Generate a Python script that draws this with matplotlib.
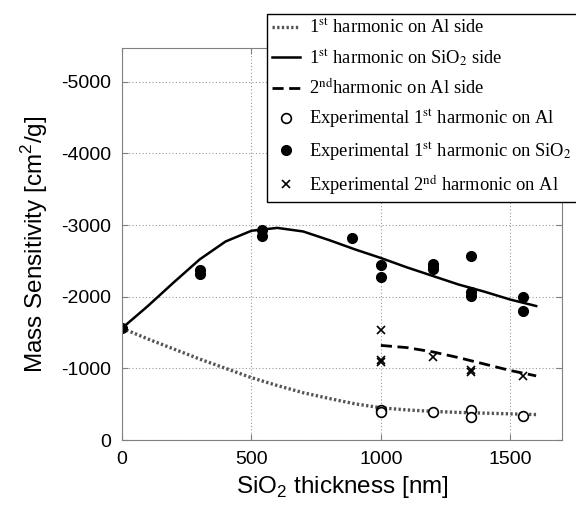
import numpy as np
import matplotlib
matplotlib.use("Agg")
import matplotlib.pyplot as plt
from matplotlib.font_manager import FontProperties

plt.rcParams['font.family'] = ['Liberation Sans', 'DejaVu Sans']
plt.rcParams['mathtext.fontset'] = 'custom'
plt.rcParams['mathtext.rm'] = 'Liberation Sans'
plt.rcParams['axes.unicode_minus'] = False

# model curves
x_model = [0, 100, 200, 300, 400, 500, 600, 700, 800, 900, 1000,
           1100, 1200, 1300, 1400, 1500, 1600]
al_1st = [-1560, -1410, -1270, -1130, -1000, -870, -760, -660, -580, -505, -450,
          -420, -400, -385, -375, -365, -355]
sio2_1st = [-1560, -1870, -2200, -2520, -2770, -2920, -2960, -2910, -2790, -2660, -2540,
            -2410, -2290, -2170, -2070, -1960, -1870]
x_2nd = [1000, 1100, 1200, 1300, 1400, 1500, 1600]
al_2nd = [-1320, -1290, -1230, -1150, -1060, -970, -895]

# experimental points
x_exp_al = [1000, 1000, 1200, 1350, 1350, 1550]
y_exp_al = [-420, -390, -395, -420, -325, -340]
x_exp_sio2 = [0, 300, 300, 540, 540, 890, 1000, 1000, 1200, 1200, 1200,
              1350, 1350, 1350, 1550, 1550]
y_exp_sio2 = [-1560, -2370, -2320, -2930, -2850, -2820, -2440, -2280, -2460, -2420, -2380,
              -2570, -2060, -2010, -1990, -1800]
x_exp_2nd = [1000, 1000, 1000, 1200, 1350, 1350, 1550]
y_exp_2nd = [-1540, -1120, -1095, -1165, -980, -950, -895]

fig = plt.figure(figsize=(5.76, 5.12), dpi=100)
ax = fig.add_axes([0.2118, 0.1406, 0.764, 0.7656])

ax.plot(x_model, al_1st, color='#555555', linestyle=(0, (0.7, 0.7)), lw=2.4,
        label=r'1$^{\rm st}$ harmonic on Al side')
ax.plot(x_model, sio2_1st, color='black', lw=1.8,
        label=r'1$^{\rm st}$ harmonic on SiO$_{\rm 2}$ side')
ax.plot(x_2nd, al_2nd, color='black', lw=2, linestyle=(0, (4, 2)),
        label=r'2$^{\rm nd}$harmonic on Al side')
ax.plot(x_exp_al, y_exp_al, 'o', mfc='white', mec='black', ms=7, mew=1.2, ls='none',
        label=r'Experimental 1$^{\rm st}$ harmonic on Al')
ax.plot(x_exp_sio2, y_exp_sio2, 'o', color='black', ms=7, ls='none',
        label=r'Experimental 1$^{\rm st}$ harmonic on SiO$_{\rm 2}$')
ax.plot(x_exp_2nd, y_exp_2nd, 'x', color='black', ms=6, mew=1.2, ls='none',
        label=r'Experimental 2$^{\rm nd}$ harmonic on Al')

ax.set_xlim(0, 1700)
ax.set_ylim(0, -5470)
ax.set_xticks([0, 500, 1000, 1500])
ax.set_yticks([0, -1000, -2000, -3000, -4000, -5000])
ax.grid(True, color='#999999', linestyle=(0, (1, 2)), lw=0.8)
ax.tick_params(direction='in', top=True, right=True, labelsize=14, color='#808080', length=4, pad=8)
for s in ax.spines.values():
    s.set_color('#808080')

ax.set_xlabel(r'SiO$_2$ thickness [nm]', fontsize=17.5, labelpad=4)
ax.set_ylabel(r'Mass Sensitivity [cm$^2$/g]', fontsize=17.5, labelpad=8)

leg_font = FontProperties(family='Liberation Serif', size=13.3, math_fontfamily='stix')
leg = ax.legend(loc='upper left', bbox_to_anchor=(0.463, 0.973), bbox_transform=fig.transFigure,
                prop=leg_font, frameon=True, fancybox=False, borderaxespad=0,
                handlelength=1.5, handletextpad=0.5, labelspacing=0.55, borderpad=0.3)
leg.get_frame().set_edgecolor('black')
leg.get_frame().set_linewidth(1)
leg.get_frame().set_alpha(1)
leg.set_zorder(10)

fig.savefig('out.png', dpi=100)
